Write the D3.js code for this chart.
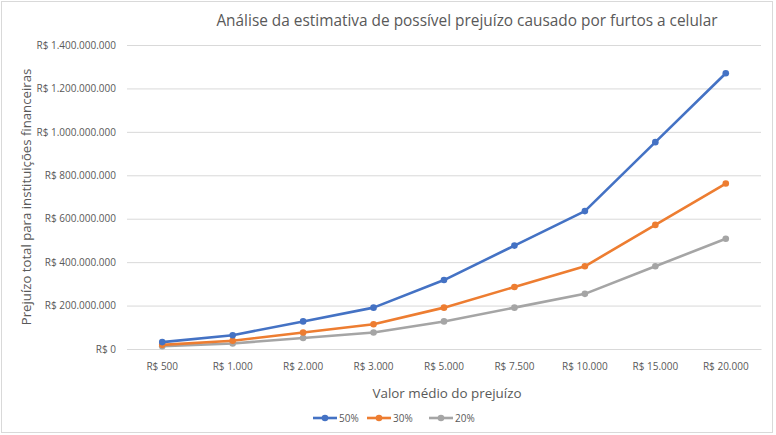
<!DOCTYPE html>
<html><head><meta charset="utf-8">
<script src="https://cdn.jsdelivr.net/npm/d3@7"></script>
<style>body{margin:0;background:#fff;}svg{display:block;font-family:"Open Sans",sans-serif;}</style>
</head><body>
<svg id="c" width="776" height="435"></svg>
<script>
const categories = ["R$ 500","R$ 1.000","R$ 2.000","R$ 3.000","R$ 5.000","R$ 7.500","R$ 10.000","R$ 15.000","R$ 20.000"];
const s50 = [31750000,63500000,127000000,190500000,317500000,476250000,635000000,952500000,1270000000];
const s30 = [19050000,38100000,76200000,114300000,190500000,285750000,381000000,571500000,762000000];
const s20 = [12700000,25400000,50800000,76200000,127000000,190500000,254000000,381000000,508000000];
const seriesNames = ["50%","30%","20%"];
const seriesColors = ["#4472C4","#ED7D31","#A5A5A5"];
const yTicks = [0,200000000,400000000,600000000,800000000,1000000000,1200000000,1400000000];
const title = "Análise da estimativa de possível prejuízo causado por furtos a celular";
const xTitle = "Valor médio do prejuízo";
const yTitle = "Prejuízo total para instituições financeiras";

const series = [s50,s30,s20].map((v,i)=>({name:seriesNames[i],color:seriesColors[i],values:v}));
const svg = d3.select("#c");
svg.append("rect").attr("x",1.5).attr("y",1.5).attr("width",771).attr("height",431).attr("fill","#fff").attr("stroke","#d9d9d9");

const L=127,R=761,T=45,B=349;
const x = d3.scaleBand().domain(categories).range([L,R]);
const y = d3.scaleLinear().domain([0,1400000000]).range([B,T]);
const fmt = v => "R$ " + (v===0?"0":d3.format(",")(v).replace(/,/g,"."));

const yAxis = d3.axisLeft(y).tickValues(yTicks).tickSize(-(R-L)).tickFormat(fmt).tickPadding(11);
const gy = svg.append("g").attr("transform",`translate(${L},0)`).call(yAxis);
gy.select(".domain").remove();
gy.selectAll(".tick line").attr("stroke","#d9d9d9");
gy.selectAll(".tick text").attr("fill","#595959").style("font-size","10px").style("font-family","Open Sans");

const xAxis = d3.axisBottom(x).tickSize(0).tickPadding(14);
const gx = svg.append("g").attr("transform",`translate(0,${B})`).call(xAxis);
gx.select(".domain").attr("stroke","#d9d9d9");
gx.selectAll(".tick text").attr("fill","#595959").style("font-size","10px").style("font-family","Open Sans");

const line = d3.line().x((d,i)=>x(categories[i])+x.bandwidth()/2).y(d=>y(d));
const g = svg.append("g");
series.slice().reverse().forEach(s=>{
  g.append("path").datum(s.values).attr("d",line).attr("fill","none").attr("stroke",s.color).attr("stroke-width",2.6).attr("stroke-linejoin","round").attr("stroke-linecap","round");
  g.selectAll(null).data(s.values).enter().append("circle")
    .attr("cx",(d,i)=>x(categories[i])+x.bandwidth()/2).attr("cy",d=>y(d)).attr("r",3.3).attr("fill",s.color);
});

svg.append("text").attr("x",467).attr("y",26).attr("text-anchor","middle").attr("fill","#595959").style("font-size","15.4px").text(title);
svg.append("text").attr("x",447).attr("y",398).attr("text-anchor","middle").attr("fill","#595959").style("font-size","13.4px").text(xTitle);
svg.append("text").attr("transform","translate(31,197) rotate(-90)").attr("text-anchor","middle").attr("fill","#595959").style("font-size","13.2px").text(yTitle);

const lx=[313,367,429];
const lg = svg.append("g");
series.forEach((s,i)=>{
  const gg = lg.append("g").attr("transform",`translate(${lx[i]},418)`);
  gg.append("line").attr("x1",0).attr("x2",24).attr("stroke",s.color).attr("stroke-width",2.6);
  gg.append("circle").attr("cx",12).attr("r",3.3).attr("fill",s.color);
  gg.append("text").attr("x",26).attr("y",3.5).attr("fill","#595959").style("font-size","10px").text(s.name);
});
</script>
</body></html>
